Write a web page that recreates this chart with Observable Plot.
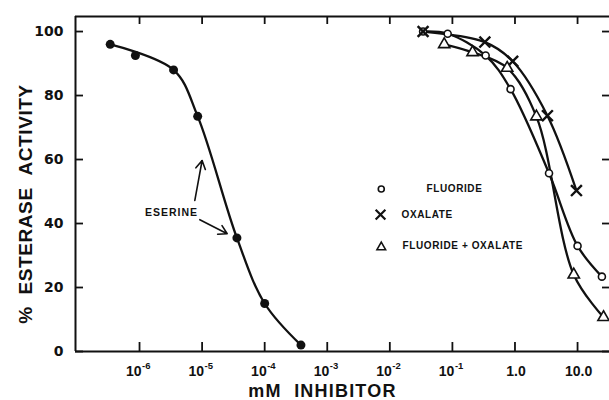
<!DOCTYPE html>
<html><head><meta charset="utf-8">
<script src="https://cdn.jsdelivr.net/npm/d3@7"></script>
<script src="https://cdn.jsdelivr.net/npm/@observablehq/plot@0.6"></script>
<style>html,body{margin:0;padding:0;background:#fff;overflow:hidden}</style>
</head><body><div id="chart"></div>
<script>
// Data (mM inhibitor vs % esterase activity)
const eserineConc = [3.4e-7, 8.6e-7, 3.5e-6, 8.5e-6, 3.6e-5, 1.0e-4, 3.8e-4];
const eserineAct  = [96, 92.5, 88, 73.5, 35.5, 15, 2];
const eserineOnCurve = [true, false, true, true, true, true, true]; // 2nd point lies off the drawn curve
const fluorideConc = [0.034, 0.084, 0.34, 0.85, 3.5, 10, 24.5];
const fluorideAct  = [100, 99.3, 92.5, 82, 55.7, 33, 23.4];
const oxalateConc = [0.034, 0.33, 0.92, 3.3, 9.6];
const oxalateAct  = [100, 96.7, 90.7, 73.7, 50.3];
const bothConc = [0.074, 0.21, 0.75, 2.2, 8.7, 26];
const bothAct  = [96, 93.5, 88.6, 73.4, 24, 10.7];

const xTicks = [1e-6, 1e-5, 1e-4, 1e-3, 1e-2, 1e-1, 1, 10];
const xTickBase = ["10", "10", "10", "10", "10", "10", "1.0", "10.0"];
const xTickExp  = ["-6", "-5", "-4", "-3", "-2", "-1", "", ""];
const yTicks = [0, 20, 40, 60, 80, 100];
const legendLabels = ["FLUORIDE", "OXALATE", "FLUORIDE + OXALATE"];
const xTitle = "mM\u00A0\u00A0INHIBITOR";
const yTitle = "%\u00A0\u00A0ESTERASE\u00A0\u00A0ACTIVITY";

const zip = (xs, ys) => xs.map((x, i) => ({x, y: ys[i]}));
const eserine = zip(eserineConc, eserineAct);
const eserineCurve = eserine.filter((d, i) => eserineOnCurve[i]);
const fluoride = zip(fluorideConc, fluorideAct);
const oxalate = zip(oxalateConc, oxalateAct);
const both = zip(bothConc, bothAct);
const tickRows = xTicks.map((v, i) => ({v, base: xTickBase[i], exp: xTickExp[i]}));

const W = 609, H = 400, mL = 75, mR = 0, mT = 16, mB = 49;
const innerW = W - mL - mR, innerH = H - mT - mB;
const xDomain = [9.48e-8, 32.4];
const yDomain = [0, 104.7];
const FONT = "'Liberation Sans', Arial, sans-serif";
const WIDE = "'DejaVu Sans', 'Liberation Sans', sans-serif";
const ink = "#111";

const lineOpts = {x: "x", y: "y", curve: "catmull-rom", stroke: ink, strokeWidth: 2.3};

const plot = Plot.plot({
  width: W, height: H,
  marginLeft: mL, marginRight: mR, marginTop: mT, marginBottom: mB,
  style: {fontFamily: FONT, fontWeight: "bold", background: "#fff", color: ink, overflow: "visible"},
  x: {type: "log", domain: xDomain, axis: null},
  y: {domain: yDomain, axis: null},
  marks: [
    // frame lines (left, bottom, top)
    Plot.ruleX([xDomain[0]], {stroke: ink, strokeWidth: 2}),
    Plot.ruleY([yDomain[0]], {stroke: ink, strokeWidth: 2.2}),
    Plot.ruleY([yDomain[1]], {stroke: ink, strokeWidth: 1.8}),
    // inward ticks
    Plot.tickX(xTicks, {x: d => d, insetTop: innerH - 9, stroke: ink, strokeWidth: 1.8}),
    Plot.tickX(xTicks, {x: d => d, insetBottom: innerH - 8, stroke: ink, strokeWidth: 1.8}),
    Plot.tickY(yTicks, {y: d => d, insetRight: innerW - 8, stroke: ink, strokeWidth: 1.8}),
    Plot.tickY(yTicks, {y: d => d, insetLeft: innerW - 7, stroke: ink, strokeWidth: 1.8}),
    // x tick labels (base + raised exponent)
    Plot.text(tickRows.filter(d => d.exp), {x: "v", text: "base", frameAnchor: "bottom", lineAnchor: "middle", textAnchor: "end", dx: 2, dy: 20, fontSize: 14, fontWeight: "bold", fill: ink}),
    Plot.text(tickRows.filter(d => d.exp), {x: "v", text: "exp", frameAnchor: "bottom", lineAnchor: "middle", textAnchor: "start", dx: 2.5, dy: 14, fontSize: 9.5, fontWeight: "bold", fill: ink}),
    Plot.text(tickRows.filter(d => !d.exp), {x: "v", text: "base", frameAnchor: "bottom", lineAnchor: "middle", textAnchor: "middle", dx: 1, dy: 20, fontSize: 14, fontWeight: "bold", fill: ink}),
    // y tick labels
    Plot.text(yTicks, {y: d => d, frameAnchor: "left", dx: -12, textAnchor: "end", text: d => String(d), fontSize: 14, fontFamily: WIDE, fontWeight: "bold", fill: ink}),
    // axis titles
    Plot.text([xTitle], {frameAnchor: "bottom", lineAnchor: "middle", dx: -20, dy: 40, fontSize: 18, fontWeight: "bold", fill: ink, text: d => d}),
    Plot.text([yTitle], {frameAnchor: "left", lineAnchor: "middle", textAnchor: "middle", dx: -50, dy: 20, rotate: -90, fontSize: 19, fontWeight: "bold", fill: ink, text: d => d}),
    // curves
    Plot.line(eserineCurve, lineOpts),
    Plot.line(fluoride, lineOpts),
    Plot.line(oxalate, lineOpts),
    Plot.line(both, lineOpts),
    // markers
    Plot.dot(eserine, {x: "x", y: "y", r: 4.5, fill: ink, stroke: "none"}),
    Plot.dot(fluoride, {x: "x", y: "y", r: 3.5, fill: "#fff", stroke: ink, strokeWidth: 1.6}),
    Plot.dot(oxalate, {x: "x", y: "y", r: 5, symbol: "times", stroke: ink, strokeWidth: 2.4}),
    Plot.dot(both, {x: "x", y: "y", r: 4.2, symbol: "triangle", fill: "#fff", stroke: ink, strokeWidth: 1.6}),
    // eserine annotation
    Plot.text(["ESERINE"], {x: () => 3.24e-6, y: () => 43.4, text: d => d, fontSize: 10.5, fontWeight: "bold", fill: ink}),
    Plot.arrow([{x1: 7.65e-6, y1: 47.2, x2: 1.0e-5, y2: 59.7}, {x1: 9.2e-6, y1: 41.2, x2: 2.52e-5, y2: 36.8}],
      {x1: "x1", y1: "y1", x2: "x2", y2: "y2", stroke: ink, strokeWidth: 1.6, headLength: 9, bend: 0}),
    // legend
    Plot.dot([[0.0073, 50.8]], {x: d => d[0], y: d => d[1], r: 3, fill: "#fff", stroke: ink, strokeWidth: 1.6}),
    Plot.dot([[0.0071, 42.8]], {x: d => d[0], y: d => d[1], r: 4.5, symbol: "times", stroke: ink, strokeWidth: 2.2}),
    Plot.dot([[0.0073, 32.6]], {x: d => d[0], y: d => d[1], r: 3.2, symbol: "triangle", fill: "#fff", stroke: ink, strokeWidth: 1.6}),
    Plot.text([[0.0386, 50.8, 0], [0.0154, 42.8, 1], [0.016, 33.0, 2]], {x: d => d[0], y: d => d[1], text: d => legendLabels[d[2]], textAnchor: "start", fontSize: 10, fontWeight: "bold", fill: ink})
  ]
});
// letter spacing for the hand-lettered titles
d3.select(plot).selectAll("text").each(function() {
  const t = this.textContent;
  if (t === xTitle) this.setAttribute("letter-spacing", "1.2");
  else if (t === yTitle) this.setAttribute("letter-spacing", "0.6");
  else if (t === "ESERINE") this.setAttribute("letter-spacing", "1");
  else if (legendLabels.includes(t)) this.setAttribute("letter-spacing", "0.6");
});
document.getElementById("chart").appendChild(plot);
</script>
</body></html>
